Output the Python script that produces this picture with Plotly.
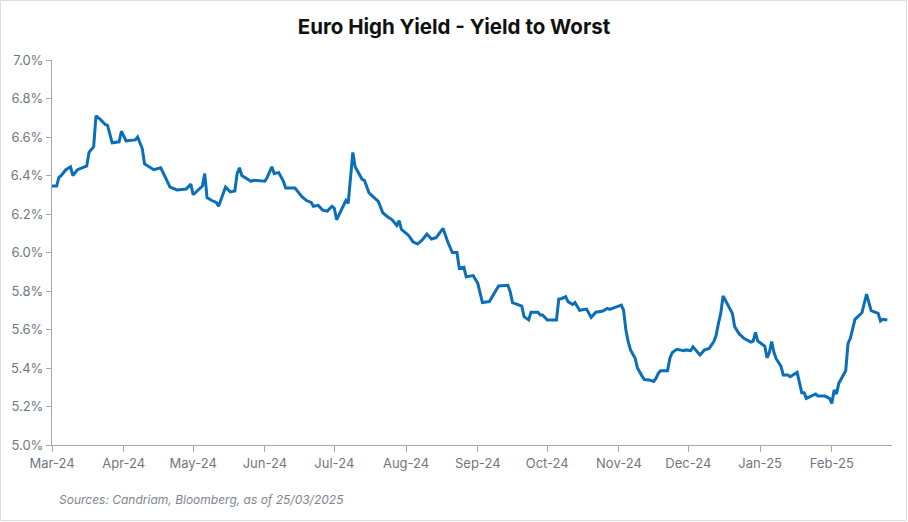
import plotly.graph_objects as go

dates = [
    "2024-03-01", "2024-03-03", "2024-03-04", "2024-03-05", "2024-03-07", "2024-03-09", "2024-03-10",
    "2024-03-12", "2024-03-14", "2024-03-16", "2024-03-17", "2024-03-19", "2024-03-20", "2024-03-22",
    "2024-03-24", "2024-03-25", "2024-03-27", "2024-03-30", "2024-03-31", "2024-04-02", "2024-04-06",
    "2024-04-07", "2024-04-09", "2024-04-10", "2024-04-14", "2024-04-17", "2024-04-19", "2024-04-21",
    "2024-04-24", "2024-04-28", "2024-04-30", "2024-05-01", "2024-05-05", "2024-05-06", "2024-05-07",
    "2024-05-09", "2024-05-11", "2024-05-12", "2024-05-15", "2024-05-17", "2024-05-19", "2024-05-20",
    "2024-05-21", "2024-05-22", "2024-05-26", "2024-05-27", "2024-06-01", "2024-06-02", "2024-06-04",
    "2024-06-05", "2024-06-07", "2024-06-09", "2024-06-10", "2024-06-14", "2024-06-17", "2024-06-19",
    "2024-06-21", "2024-06-22", "2024-06-24", "2024-06-26", "2024-06-28", "2024-06-30", "2024-07-01",
    "2024-07-02", "2024-07-04", "2024-07-06", "2024-07-07", "2024-07-09", "2024-07-10", "2024-07-13",
    "2024-07-14", "2024-07-16", "2024-07-20", "2024-07-22", "2024-07-24", "2024-07-26", "2024-07-28",
    "2024-07-29", "2024-07-30", "2024-08-02", "2024-08-04", "2024-08-06", "2024-08-08", "2024-08-10",
    "2024-08-12", "2024-08-14", "2024-08-17", "2024-08-19", "2024-08-21", "2024-08-23", "2024-08-24",
    "2024-08-26", "2024-08-27", "2024-08-30", "2024-09-01", "2024-09-03", "2024-09-06", "2024-09-08",
    "2024-09-10", "2024-09-14", "2024-09-15", "2024-09-16", "2024-09-19", "2024-09-20", "2024-09-21",
    "2024-09-23", "2024-09-24", "2024-09-27", "2024-09-28", "2024-09-29", "2024-10-01", "2024-10-05",
    "2024-10-06", "2024-10-07", "2024-10-09", "2024-10-10", "2024-10-12", "2024-10-13", "2024-10-15",
    "2024-10-18", "2024-10-20", "2024-10-22", "2024-10-25", "2024-10-27", "2024-10-28", "2024-10-30",
    "2024-11-02", "2024-11-03", "2024-11-04", "2024-11-05", "2024-11-06", "2024-11-08", "2024-11-09",
    "2024-11-11", "2024-11-12", "2024-11-14", "2024-11-16", "2024-11-17", "2024-11-18", "2024-11-19",
    "2024-11-22", "2024-11-23", "2024-11-24", "2024-11-26", "2024-11-29", "2024-11-30", "2024-12-02",
    "2024-12-03", "2024-12-06", "2024-12-08", "2024-12-10", "2024-12-12", "2024-12-13", "2024-12-14",
    "2024-12-15", "2024-12-16", "2024-12-18", "2024-12-20", "2024-12-21", "2024-12-23", "2024-12-25",
    "2024-12-28", "2024-12-29", "2024-12-30", "2024-12-31", "2025-01-03", "2025-01-04", "2025-01-05",
    "2025-01-06", "2025-01-07", "2025-01-08", "2025-01-10", "2025-01-11", "2025-01-13", "2025-01-14",
    "2025-01-16", "2025-01-17", "2025-01-19", "2025-01-20", "2025-01-21", "2025-01-23", "2025-01-25",
    "2025-01-26", "2025-01-29", "2025-01-31", "2025-02-01", "2025-02-02", "2025-02-03", "2025-02-04",
    "2025-02-06", "2025-02-07", "2025-02-08", "2025-02-09", "2025-02-11", "2025-02-14", "2025-02-16",
    "2025-02-18", "2025-02-21", "2025-02-22", "2025-02-23", "2025-02-25",
]

ytw = [
    6.345, 6.345, 6.39, 6.40, 6.43, 6.445, 6.40,
    6.43, 6.44, 6.45, 6.52, 6.55, 6.71, 6.69,
    6.665, 6.66, 6.57, 6.575, 6.63, 6.58, 6.585,
    6.60, 6.54, 6.46, 6.43, 6.44, 6.39, 6.34,
    6.325, 6.33, 6.355, 6.30, 6.345, 6.41, 6.285,
    6.27, 6.26, 6.24, 6.34, 6.315, 6.32, 6.41,
    6.44, 6.40, 6.37, 6.375, 6.37, 6.39, 6.445,
    6.41, 6.415, 6.37, 6.335, 6.335, 6.29, 6.27,
    6.26, 6.24, 6.245, 6.22, 6.215, 6.24, 6.23,
    6.17, 6.22, 6.27, 6.255, 6.52, 6.445, 6.38,
    6.375, 6.31, 6.265, 6.205, 6.186, 6.17, 6.14,
    6.165, 6.12, 6.09, 6.056, 6.044, 6.065, 6.096,
    6.07, 6.077, 6.125, 6.056, 6.00, 6.00, 5.918,
    5.923, 5.874, 5.88, 5.84, 5.74, 5.745, 5.788,
    5.826, 5.83, 5.796, 5.74, 5.727, 5.722, 5.667,
    5.65, 5.69, 5.69, 5.675, 5.675, 5.65, 5.65,
    5.758, 5.76, 5.77, 5.745, 5.73, 5.74, 5.70,
    5.706, 5.663, 5.69, 5.696, 5.71, 5.705, 5.715,
    5.727, 5.70, 5.597, 5.537, 5.494, 5.45, 5.40,
    5.358, 5.34, 5.338, 5.33, 5.346, 5.372, 5.386,
    5.386, 5.45, 5.48, 5.497, 5.49, 5.494, 5.49,
    5.51, 5.468, 5.494, 5.502, 5.537, 5.57, 5.632,
    5.684, 5.774, 5.727, 5.684, 5.615, 5.577, 5.554,
    5.535, 5.54, 5.585, 5.54, 5.514, 5.453, 5.48,
    5.537, 5.48, 5.447, 5.41, 5.364, 5.364, 5.355,
    5.367, 5.377, 5.272, 5.272, 5.242, 5.254, 5.265,
    5.254, 5.254, 5.242, 5.216, 5.286, 5.265, 5.32,
    5.364, 5.386, 5.528, 5.554, 5.653, 5.687, 5.784,
    5.698, 5.684, 5.644, 5.653, 5.649,
]

tick_dates = ["2024-03-01", "2024-04-01", "2024-05-01", "2024-06-01", "2024-07-01", "2024-08-01",
              "2024-09-01", "2024-10-01", "2024-11-01", "2024-12-01", "2025-01-01", "2025-02-01"]
tick_labels = ["Mar-24", "Apr-24", "May-24", "Jun-24", "Jul-24", "Aug-24",
               "Sep-24", "Oct-24", "Nov-24", "Dec-24", "Jan-25", "Feb-25"]
y_ticks = [5.0, 5.2, 5.4, 5.6, 5.8, 6.0, 6.2, 6.4, 6.6, 6.8, 7.0]
y_labels = [f"{v:.1f}%" for v in y_ticks]

title_text = "Euro High Yield - Yield to Worst"
source_text = "Sources: Candriam, Bloomberg, as of 25/03/2025"

W, H = 908, 522
ML, MR, MT, MB = 52, 16, 60, 77
PW, PH = W - ML - MR, H - MT - MB

fig = go.Figure()
fig.add_trace(go.Scatter(
    x=dates, y=ytw, mode="lines",
    line=dict(color="#0a6fb8", width=3),
    hoverinfo="skip", showlegend=False,
))

axis_col = "#a3a9b1"
tick_font = dict(family="Inter, Open Sans, sans-serif", size=13, color="#6f7782")

fig.update_layout(
    width=W, height=H,
    margin=dict(l=ML, r=MR, t=MT, b=MB),
    paper_bgcolor="white", plot_bgcolor="white",
    title=dict(text=f"<b>{title_text}</b>", x=(454 - ML) / PW, xref="paper", xanchor="center",
               y=1 - 27 / H, yanchor="middle",
               font=dict(family="Inter, Open Sans, sans-serif", size=20.5, color="#111111")),
    xaxis=dict(
        range=["2024-03-01", "2025-02-27"], showgrid=False, zeroline=False,
        showline=True, linecolor=axis_col, linewidth=1,
        ticks="outside", ticklen=6, tickcolor=axis_col,
        tickvals=tick_dates, ticktext=tick_labels, tickfont=tick_font,
    ),
    yaxis=dict(
        range=[5.0, 7.0], showgrid=False, zeroline=False,
        showline=True, linecolor=axis_col, linewidth=1,
        ticks="outside", ticklen=5, tickcolor=axis_col,
        tickvals=y_ticks, ticktext=y_labels, tickfont=tick_font,
    ),
)

fig.add_annotation(
    text=f"<i>{source_text}</i>", xref="paper", yref="paper",
    x=(57 - ML) / PW, y=(H - MB - 499) / PH, xanchor="left", yanchor="middle",
    showarrow=False, font=dict(family="Inter, Open Sans, sans-serif", size=12, color="#7d8590"),
)

fig.add_shape(
    type="rect", xref="paper", yref="paper",
    x0=(0.5 - ML) / PW, x1=(906.5 - ML) / PW,
    y0=(H - MB - 520.5) / PH, y1=(H - MB - 0.5) / PH,
    line=dict(color="#dcdcdc", width=1), fillcolor="rgba(0,0,0,0)", layer="below",
)

fig.write_html("out.html")
